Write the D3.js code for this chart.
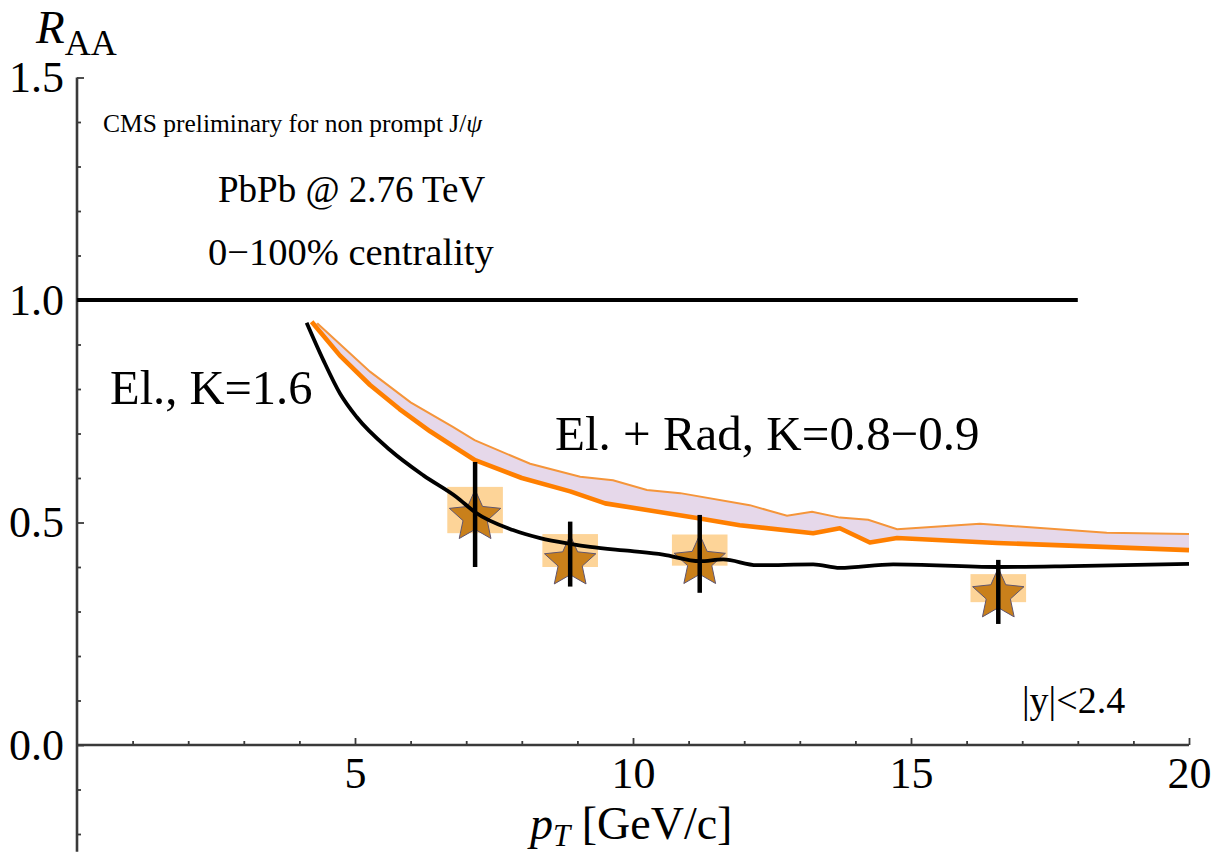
<!DOCTYPE html>
<html>
<head>
<meta charset="utf-8">
<script src="https://cdn.jsdelivr.net/npm/d3@7"></script>
<style>
  html, body { margin: 0; padding: 0; background: #fff; }
  svg { display: block; }
  text { font-family: "Liberation Serif", "Times New Roman", "DejaVu Serif", serif; fill: #000; }
</style>
</head>
<body>
<svg id="chart" width="1214" height="852"></svg>
<script>
// Collisional (El.) energy loss, K = 1.6
const elPt = [4.13, 4.43, 4.73, 5.03, 5.63, 6.23, 6.83, 7.16, 7.84, 8.33, 8.87, 9.23, 9.95, 10.54, 11.2, 11.62, 12.23, 13.24, 13.72, 14.68, 16.55, 17.9, 20.0];
const elRaa = [0.949, 0.865, 0.79, 0.737, 0.663, 0.606, 0.557, 0.523, 0.483, 0.465, 0.452, 0.445, 0.436, 0.428, 0.413, 0.417, 0.404, 0.406, 0.398, 0.406, 0.400, 0.402, 0.407];

// El. + Rad, lower edge (thick line)
const radLowPt = [4.22, 4.73, 5.27, 5.8, 6.35, 6.76, 7.16, 8.0, 8.87, 9.5, 10.25, 11.15, 11.92, 13.24, 13.72, 14.26, 14.75, 16.55, 20.0];
const radLowRaa = [0.951, 0.875, 0.809, 0.755, 0.705, 0.672, 0.64, 0.60, 0.57, 0.543, 0.528, 0.51, 0.494, 0.476, 0.487, 0.455, 0.465, 0.454, 0.438];

// El. + Rad, upper edge (thin line)
const radHighPt = [4.32, 5.27, 6.0, 6.76, 7.15, 8.15, 9.05, 9.64, 10.25, 10.85, 12.1, 12.77, 13.22, 13.72, 14.23, 14.75, 16.24, 18.52, 20.0];
const radHighRaa = [0.948, 0.839, 0.77, 0.715, 0.685, 0.632, 0.603, 0.595, 0.573, 0.566, 0.539, 0.515, 0.524, 0.511, 0.506, 0.485, 0.497, 0.477, 0.474];

// CMS preliminary non-prompt J/psi points
const cmsPt = [7.16, 8.87, 11.2, 16.57];
const cmsRaa = [0.513, 0.411, 0.412, 0.337];
const cmsStatLo = [0.40, 0.356, 0.342, 0.272];
const cmsStatHi = [0.636, 0.502, 0.517, 0.416];
const cmsSysLo = [0.476, 0.40, 0.403, 0.321];
const cmsSysHi = [0.58, 0.474, 0.473, 0.384];
const cmsPtHalfBin = [0.5, 0.5, 0.5, 0.5];

// Axis ticks
const xMajorTicks = [5, 10, 15, 20];
const xMinorTicks = [1, 2, 3, 4, 6, 7, 8, 9, 11, 12, 13, 14, 16, 17, 18, 19];
const yMajorTicks = [0, 0.5, 1.0, 1.5];
const yMinorTicks = [-0.2, -0.1, 0.1, 0.2, 0.3, 0.4, 0.6, 0.7, 0.8, 0.9, 1.1, 1.2, 1.3, 1.4];

// Reference line R_AA = 1
const unityFrom = 0, unityTo = 18, unityValue = 1.0;

const svg = d3.select("#chart");
const x = d3.scaleLinear().domain([0, 20]).range([77, 1189]);
const y = d3.scaleLinear().domain([-0.24, 1.5]).range([851.8, 77.5]);

const axisColor = "#3a3a3a";

// ---- axes ----
const yMinor = d3.axisLeft(y).tickValues(yMinorTicks).tickFormat("").tickSizeInner(-4).tickSizeOuter(0);
const yMajor = d3.axisLeft(y).tickValues(yMajorTicks).tickFormat(d3.format(".1f")).tickSizeInner(-7).tickSizeOuter(0).tickPadding(13);
const gy1 = svg.append("g").attr("transform", `translate(${x(0)},0)`).call(yMinor);
const gy2 = svg.append("g").attr("transform", `translate(${x(0)},0)`).call(yMajor);
[gy1, gy2].forEach(g => {
  g.select(".domain").remove();
  g.selectAll("line").attr("stroke", axisColor).attr("stroke-width", 1.8);
});
gy2.selectAll("text").attr("font-size", 44).attr("font-family", '"Liberation Serif", serif').attr("fill", "#000");
svg.append("line")
  .attr("x1", x(0)).attr("x2", x(0))
  .attr("y1", y(1.5)).attr("y2", y(-0.24))
  .attr("stroke", axisColor).attr("stroke-width", 2.6);

const xMinor = d3.axisBottom(x).tickValues(xMinorTicks).tickFormat("").tickSizeInner(-4).tickSizeOuter(0);
const xMajor = d3.axisBottom(x).tickValues(xMajorTicks).tickFormat(d3.format("d")).tickSizeInner(-7).tickSizeOuter(0).tickPadding(12);
const gx1 = svg.append("g").attr("transform", `translate(0,${y(0)})`).call(xMinor);
const gx2 = svg.append("g").attr("transform", `translate(0,${y(0)})`).call(xMajor);
[gx1, gx2].forEach(g => {
  g.select(".domain").remove();
  g.selectAll("line").attr("stroke", axisColor).attr("stroke-width", 1.8);
});
gx2.selectAll("text").attr("font-size", 44).attr("font-family", '"Liberation Serif", serif').attr("fill", "#000");
svg.append("line")
  .attr("x1", x(0)).attr("x2", x(20))
  .attr("y1", y(0)).attr("y2", y(0))
  .attr("stroke", axisColor).attr("stroke-width", 2.6);

// ---- unity line ----
svg.append("line")
  .attr("x1", x(unityFrom)).attr("x2", x(unityTo))
  .attr("y1", y(unityValue)).attr("y2", y(unityValue))
  .attr("stroke", "#000").attr("stroke-width", 3.8);

// ---- El. + Rad band ----
const highPts = radHighPt.map((p, i) => [p, radHighRaa[i]]);
const lowPts = radLowPt.map((p, i) => [p, radLowRaa[i]]);
const line = d3.line().x(d => x(d[0])).y(d => y(d[1]));
svg.append("path")
  .attr("d", line(highPts.concat(lowPts.slice().reverse())) + "Z")
  .attr("fill", "#e6d8ea").attr("stroke", "none");
svg.append("path")
  .attr("d", line(highPts))
  .attr("fill", "none").attr("stroke", "#f5953a").attr("stroke-width", 2);

// ---- CMS systematic boxes ----
const cms = cmsPt.map((p, i) => ({
  pt: p, raa: cmsRaa[i], sLo: cmsStatLo[i], sHi: cmsStatHi[i],
  yLo: cmsSysLo[i], yHi: cmsSysHi[i], hw: cmsPtHalfBin[i]
}));
svg.append("g").selectAll("rect").data(cms).join("rect")
  .attr("x", d => x(d.pt - d.hw))
  .attr("width", d => x(d.pt + d.hw) - x(d.pt - d.hw))
  .attr("y", d => y(d.yHi))
  .attr("height", d => y(d.yLo) - y(d.yHi))
  .attr("fill", "#fcc575").attr("fill-opacity", 0.75);

// ---- curves ----
svg.append("path")
  .attr("d", line(lowPts))
  .attr("fill", "none").attr("stroke", "#ff7f00").attr("stroke-width", 4.6)
  .attr("stroke-linejoin", "round");

const elLine = d3.line().x(d => x(d[0])).y(d => y(d[1])).curve(d3.curveMonotoneX);

// ---- star markers (five-pointed, fairly plump) ----
const plumpStar = {
  draw(context, size) {
    const r = Math.sqrt(size);
    const inner = r * 0.47;
    for (let i = 0; i < 10; i++) {
      const a = -Math.PI / 2 + i * Math.PI / 5;
      const rr = i % 2 === 0 ? r : inner;
      const px = rr * Math.cos(a), py = rr * Math.sin(a);
      if (i === 0) context.moveTo(px, py); else context.lineTo(px, py);
    }
    context.closePath();
  }
};
const starSize = 27 * 27;
svg.append("g").selectAll("path").data(cms).join("path")
  .attr("transform", d => `translate(${x(d.pt)},${y(d.raa)})`)
  .attr("d", d3.symbol(plumpStar, starSize))
  .attr("fill", "#c9801b").attr("stroke", "#5f5570").attr("stroke-width", 1);

svg.append("path")
  .attr("d", elLine(elPt.map((p, i) => [p, elRaa[i]])))
  .attr("fill", "none").attr("stroke", "#000").attr("stroke-width", 3.8)
  .attr("stroke-linejoin", "round");

// ---- statistical error bars ----
svg.append("g").selectAll("line").data(cms).join("line")
  .attr("x1", d => x(d.pt)).attr("x2", d => x(d.pt))
  .attr("y1", d => y(d.sHi)).attr("y2", d => y(d.sLo))
  .attr("stroke", "#000").attr("stroke-width", 4.5);

// ---- labels ----
const raaLabel = svg.append("text").attr("x", 36).attr("y", 43);
raaLabel.append("tspan").attr("font-style", "italic").attr("font-size", 47).text("R");
raaLabel.append("tspan").attr("font-size", 36).attr("dy", 12).text("AA");

const xTitle = svg.append("text").attr("x", 530).attr("y", 839).attr("font-size", 46);
xTitle.append("tspan").attr("font-style", "italic").text("p");
xTitle.append("tspan").attr("font-style", "italic").attr("font-size", 31).attr("dy", 7).text("T");
xTitle.append("tspan").attr("dy", -7).text(" [GeV/c]");

const cmsLabel = svg.append("text").attr("x", 103).attr("y", 132).attr("font-size", 25.5);
cmsLabel.append("tspan").text("CMS preliminary for non prompt J/");
cmsLabel.append("tspan").attr("font-style", "italic").text("ψ");

svg.append("text").attr("x", 218).attr("y", 202).attr("font-size", 37).text("PbPb @ 2.76 TeV");
svg.append("text").attr("x", 208).attr("y", 265).attr("font-size", 38.5).text("0\u2212100% centrality");
svg.append("text").attr("x", 110).attr("y", 404).attr("font-size", 48.5).text("El., K=1.6");
svg.append("text").attr("x", 555).attr("y", 450).attr("font-size", 49).text("El. + Rad, K=0.8\u22120.9");
svg.append("text").attr("x", 1022).attr("y", 713).attr("font-size", 38).text("|y|<2.4");
</script>
</body>
</html>
